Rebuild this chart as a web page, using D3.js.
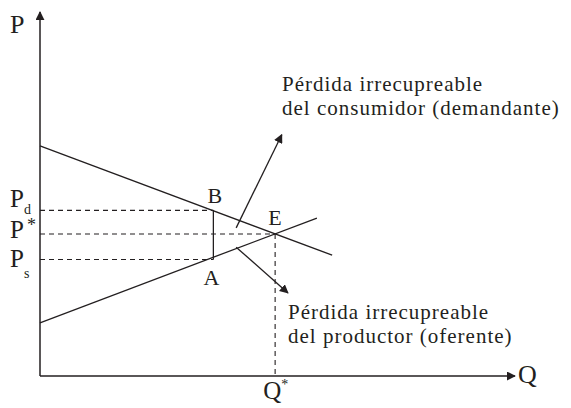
<!DOCTYPE html>
<html>
<head>
<meta charset="utf-8">
<script src="https://cdn.jsdelivr.net/npm/d3@7"></script>
<style>
  body { margin: 0; background: #fff; }
</style>
</head>
<body>
<svg id="chart" width="571" height="408"></svg>
<script>
// curvas (unidades de Q y P)
const demanda = [[0, 6.32], [6.15, 3.32]];
const oferta = [[0, 1.46], [5.83, 4.34]];

// precios y cantidades
const Pd = 4.55, Pstar = 3.9, Ps = 3.2;
const Qt = 3.65, Qstar = 4.95;

// flechas hacia las etiquetas
const flechaConsumidor = [[4.13, 4.07], [5.09, 6.63]];
const flechaProductor = [[4.13, 3.54], [5.22, 2.28]];

const etiquetaConsumidor = ["Pérdida irrecupreable", "del consumidor (demandante)"];
const etiquetaProductor = ["Pérdida irrecupreable", "del productor (oferente)"];

const ink = "#231f20";
const serif = "'Liberation Serif', 'DejaVu Serif', serif";

const svg = d3.select("#chart")
    .attr("font-family", serif)
    .attr("fill", ink);

// escalas
const x = d3.scaleLinear().domain([0, 10]).range([40, 515]);
const y = d3.scaleLinear().domain([0, 10]).range([376, 12]);

// flechas
svg.append("defs").append("marker")
    .attr("id", "head")
    .attr("viewBox", "0 0 10 10")
    .attr("refX", 9).attr("refY", 5)
    .attr("markerWidth", 9).attr("markerHeight", 9)
    .attr("markerUnits", "userSpaceOnUse")
    .attr("orient", "auto")
  .append("path")
    .attr("d", "M0,0 L10,5 L0,10 Z")
    .attr("fill", ink);

// ejes
svg.append("line")
    .attr("x1", x(0)).attr("y1", y(0))
    .attr("x2", x(0)).attr("y2", y(10))
    .attr("stroke", ink).attr("stroke-width", 1.5)
    .attr("marker-end", "url(#head)");
svg.append("line")
    .attr("x1", x(0)).attr("y1", y(0))
    .attr("x2", x(10)).attr("y2", y(0))
    .attr("stroke", ink).attr("stroke-width", 1.5)
    .attr("marker-end", "url(#head)");

const line = d3.line().x(d => x(d[0])).y(d => y(d[1]));

// líneas punteadas
const dashed = [
    [[0, Pd], [Qt, Pd]],
    [[0, Pstar], [Qstar, Pstar]],
    [[0, Ps], [Qt, Ps]],
    [[Qstar, Pstar], [Qstar, 0]]
];
svg.selectAll(".dash")
    .data(dashed)
    .enter().append("path")
    .attr("class", "dash")
    .attr("d", line)
    .attr("fill", "none")
    .attr("stroke", ink)
    .attr("stroke-width", 1.1)
    .attr("stroke-dasharray", "5,4");

// demanda y oferta
svg.selectAll(".curve")
    .data([demanda, oferta])
    .enter().append("path")
    .attr("class", "curve")
    .attr("d", line)
    .attr("fill", "none")
    .attr("stroke", ink)
    .attr("stroke-width", 1.3);

// cuña del impuesto
svg.append("path")
    .attr("d", line([[Qt, Pd], [Qt, Ps]]))
    .attr("stroke", ink).attr("stroke-width", 1.3);

// flechas a las etiquetas
svg.selectAll(".arrow")
    .data([flechaConsumidor, flechaProductor])
    .enter().append("path")
    .attr("class", "arrow")
    .attr("d", line)
    .attr("fill", "none")
    .attr("stroke", ink)
    .attr("stroke-width", 1.3)
    .attr("marker-end", "url(#head)");

// textos
function label(tx, ty, size, t, ls) {
    return svg.append("text")
        .attr("x", tx).attr("y", ty)
        .attr("font-size", size)
        .attr("letter-spacing", ls || 0)
        .attr("fill", ink)
        .text(t);
}

// etiquetas de ejes
label(10, 33, 26, "P");
label(518, 383, 26, "Q");
label(x(Qstar) - 12, 399, 25, "Q");
label(x(Qstar) + 6, 389, 14, "*");

// precios
label(10, y(Pd) - 3.5, 25, "P");
label(24, y(Pd) + 4, 14, "d");
label(10, y(Pstar) + 4, 25, "P");
label(27, y(Pstar) - 3, 18, "*");
label(10, y(Ps) + 7.5, 25, "P");
label(24, y(Ps) + 18, 14, "s");

// puntos
label(x(Qt) - 6, 203, 22, "B");
label(x(Qt) - 10, 285, 22, "A");
label(x(Qstar) - 7, 225, 22, "E");

// etiquetas de pérdida, una línea por texto
etiquetaConsumidor.forEach((t, i) => label(282, 91 + i * 23.5, 21, t, 1));
etiquetaProductor.forEach((t, i) => label(288, 319 + i * 23.5, 21, t, 1));
</script>
</body>
</html>
